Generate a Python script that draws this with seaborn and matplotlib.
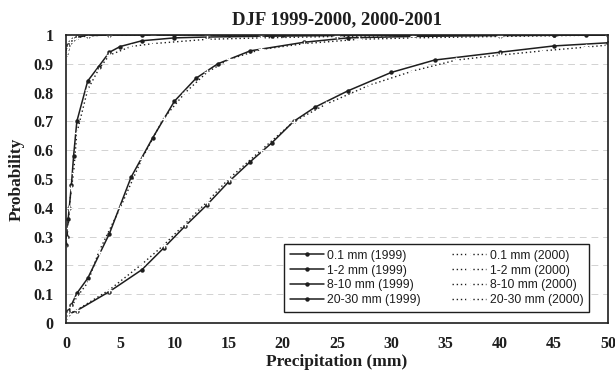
import matplotlib
matplotlib.use("Agg")
import matplotlib.pyplot as plt
import seaborn as sns
import pandas as pd

# Cumulative probability of daily precipitation, DJF seasons
x_01_99 = [0, 0.1, 0.2, 0.4, 0.6, 1, 2, 4, 7, 10, 15, 20, 32, 45, 48, 50]
y_01_99 = [0.935, 0.95, 0.965, 0.975, 0.985, 0.993, 0.998, 1, 1, 1, 1, 1, 1, 1, 1, 1]
x_01_00 = [0, 0.1, 0.2, 0.4, 0.6, 1, 2, 4, 8, 13, 18, 25, 32, 40, 50]
y_01_00 = [0.93, 0.945, 0.96, 0.975, 0.985, 0.99, 0.997, 1, 1, 1, 1, 1, 1, 1, 1]

x_12_99 = [0, 0.1, 0.2, 0.3, 0.5, 0.7, 1, 2, 3, 4, 5, 7, 10, 13, 19, 25, 32, 45, 50]
y_12_99 = [0.27, 0.30, 0.36, 0.40, 0.48, 0.58, 0.70, 0.84, 0.89, 0.94, 0.96, 0.98,
           0.99, 0.993, 0.996, 0.998, 1, 1, 1]
x_12_00 = [0, 0.1, 0.2, 0.3, 0.5, 0.7, 1, 2, 3, 4, 6, 8, 13, 18, 25, 32, 40, 50]
y_12_00 = [0.26, 0.29, 0.33, 0.40, 0.47, 0.52, 0.66, 0.81, 0.88, 0.93, 0.96, 0.97,
           0.985, 0.99, 0.995, 0.998, 1, 1]

x_810_99 = [0, 0.2, 0.5, 1, 2, 4, 6, 8, 10, 12, 14, 17, 22, 26, 32, 40, 50]
y_810_99 = [0.02, 0.04, 0.063, 0.103, 0.155, 0.31, 0.506, 0.643, 0.77, 0.85, 0.90,
            0.945, 0.975, 0.99, 0.995, 0.998, 1.0]
x_810_00 = [0, 0.2, 0.5, 1, 2, 3, 5, 7, 9, 11, 13, 15, 18, 22, 27, 32, 40, 50]
y_810_00 = [0.018, 0.035, 0.055, 0.09, 0.14, 0.245, 0.40, 0.57, 0.71, 0.80, 0.87,
            0.915, 0.95, 0.97, 0.985, 0.99, 0.995, 1.0]

x_2030_99 = [0, 0.2, 1, 4, 7, 9, 11, 13, 15, 17, 19, 21, 23, 26, 30, 34, 40, 45, 50]
y_2030_99 = [0.02, 0.03, 0.043, 0.109, 0.185, 0.26, 0.337, 0.41, 0.49, 0.56, 0.626,
             0.70, 0.75, 0.806, 0.87, 0.913, 0.94, 0.962, 0.973]
x_2030_00 = [0, 0.2, 1, 4, 7, 9, 11, 13, 15, 18, 21, 24, 28, 32, 36, 40, 44, 48, 50]
y_2030_00 = [0.02, 0.03, 0.045, 0.115, 0.204, 0.27, 0.345, 0.42, 0.50, 0.60, 0.699,
             0.76, 0.826, 0.875, 0.913, 0.93, 0.945, 0.958, 0.965]

series_1999 = [
    ("0.1 mm (1999)", x_01_99, y_01_99),
    ("1-2 mm (1999)", x_12_99, y_12_99),
    ("8-10 mm (1999)", x_810_99, y_810_99),
    ("20-30 mm (1999)", x_2030_99, y_2030_99),
]
series_2000 = [
    ("0.1 mm (2000)", x_01_00, y_01_00),
    ("1-2 mm (2000)", x_12_00, y_12_00),
    ("8-10 mm (2000)", x_810_00, y_810_00),
    ("20-30 mm (2000)", x_2030_00, y_2030_00),
]

x_ticks = [0, 5, 10, 15, 20, 25, 30, 35, 40, 45, 50]
y_ticks = [0, 0.1, 0.2, 0.3, 0.4, 0.5, 0.6, 0.7, 0.8, 0.9, 1]
y_ticklabels = ["0", "0.1", "0.2", "0.3", "0.4", "0.5", "0.6", "0.7", "0.8", "0.9", "1"]

sns.set_theme(style="white")
serif = ["Liberation Serif", "DejaVu Serif"]
sans = ["Liberation Sans", "DejaVu Sans"]
ink = "#1e1e1e"

fig = plt.figure(figsize=(6.15, 3.77), dpi=100)
ax = fig.add_axes([66 / 615, 1 - 323 / 377, 542 / 615, 288 / 377])

handles = []
for label, xs, ys in series_1999:
    df = pd.DataFrame({"x": xs, "y": ys})
    sns.lineplot(data=df, x="x", y="y", ax=ax, color=ink, lw=1.1,
                 marker="o", markersize=3.2, markeredgewidth=0,
                 estimator=None, sort=False, label=label, legend=False)
    handles.append(ax.get_lines()[-1])
for label, xs, ys in series_2000:
    df = pd.DataFrame({"x": xs, "y": ys})
    sns.lineplot(data=df, x="x", y="y", ax=ax, color=ink, lw=1.0,
                 linestyle=(0, (1, 2)), marker="+", markersize=4,
                 markeredgewidth=1.0, estimator=None, sort=False,
                 label=label, legend=False)
    handles.append(ax.get_lines()[-1])

ax.set_xlim(0, 50)
ax.set_ylim(0, 1)
ax.set_xticks(x_ticks)
ax.set_yticks(y_ticks)
ax.set_yticklabels(y_ticklabels)
ax.set_xticklabels([str(t) for t in x_ticks])

# faint dashed horizontal guides
for t in y_ticks[1:-1]:
    ax.axhline(t, color="#d2d2d2", lw=0.7, linestyle=(0, (7, 5)), zorder=0)

for side in ["left", "right", "top", "bottom"]:
    ax.spines[side].set_visible(True)
    ax.spines[side].set_color(ink)
    ax.spines[side].set_linewidth(1.2)

ax.tick_params(axis="both", which="both", direction="out", length=3,
               width=0.8, color="#777777", pad=6)
for lab in ax.get_xticklabels() + ax.get_yticklabels():
    lab.set_fontfamily(serif)
    lab.set_fontweight("bold")
    lab.set_fontsize(11.5)
    lab.set_color(ink)

ax.set_xlabel("Precipitation (mm)", fontfamily=serif, fontweight="bold",
              fontsize=12.5, color=ink, labelpad=2)
ax.set_ylabel("Probability", fontfamily=serif, fontweight="bold",
              fontsize=12.5, color=ink, labelpad=6)
ax.set_title("DJF 1999-2000, 2000-2001", fontfamily=serif, fontweight="bold",
             fontsize=13.5, color=ink, pad=8)

leg = ax.legend(handles=handles, labels=[s[0] for s in series_1999 + series_2000],
                ncol=2, loc="lower right", bbox_to_anchor=(0.976, 0.018),
                prop={"family": sans, "size": 8.7}, frameon=True, fancybox=False,
                edgecolor=ink, framealpha=1, handlelength=2.8,
                labelspacing=0.24, columnspacing=2.6, borderpad=0.45,
                handletextpad=0.3, numpoints=1)
leg.get_frame().set_linewidth(1.0)
for txt in leg.get_texts():
    txt.set_color(ink)

fig.savefig("out.png", dpi=100, facecolor="white")
